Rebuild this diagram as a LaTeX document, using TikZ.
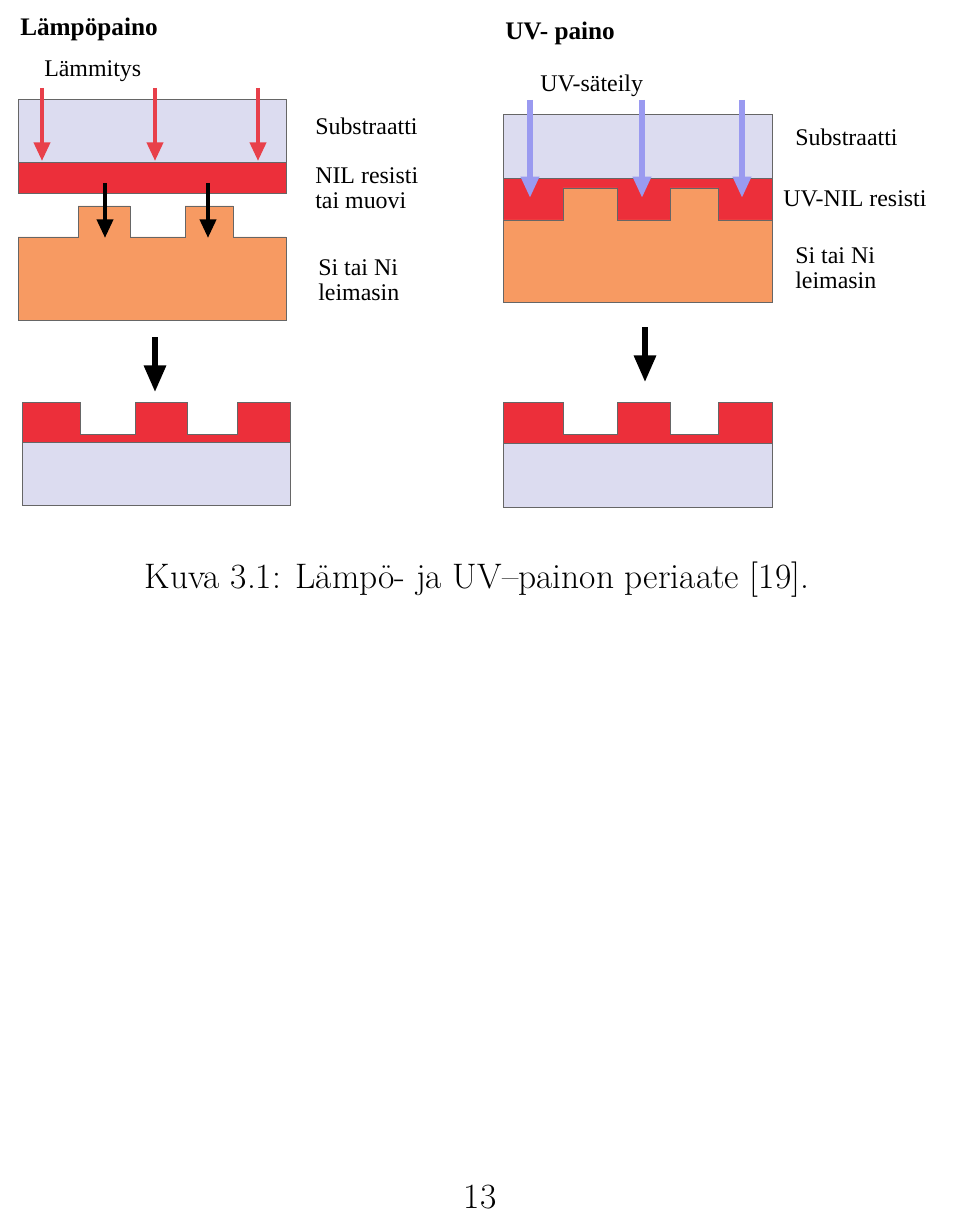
\documentclass[tikz,border=0pt]{standalone}
\usepackage{fontspec}
\newfontfamily\lblfont{Liberation Serif}
\usetikzlibrary{arrows.meta}
\definecolor{substr}{HTML}{DCDCF0}
\definecolor{resist}{HTML}{EC2F3A}
\definecolor{stamp}{HTML}{F79A62}
\definecolor{uvblue}{HTML}{9A9AF0}
\definecolor{heatred}{HTML}{E8404A}
\tikzset{
  layer/.style={draw=black!60,line width=0.6pt},
  lbl/.style={font=\lblfont\fontsize{18}{19}\selectfont,anchor=west,align=left,inner sep=0pt},
  title/.style={font=\lblfont\bfseries\fontsize{19}{21}\selectfont,anchor=west,inner sep=0pt},
  heat/.style={draw=heatred,line width=3pt,-{Triangle[width=12pt,length=14pt]}},
  uv/.style={draw=uvblue,line width=4pt,-{Triangle[width=13pt,length=16pt]}},
  press/.style={draw=black,line width=3pt,-{Triangle[width=12pt,length=14pt]}},
  step arrow/.style={draw=black,line width=4pt,-{Triangle[width=16pt,length=20pt]}}
}
\begin{document}
\begin{tikzpicture}[x=0.02646cm,y=-0.02646cm]
\useasboundingbox (0,0) rectangle (960,1213);

% thermal imprint
\node[title] (lt) at (20,29) {Lämpöpaino};
\node[lbl] (lh) at (44,71) {Lämmitys};
\fill[substr,layer] (18,99) rectangle (286,162);
\fill[resist,layer] (18,162) rectangle (286,193);
\fill[stamp,layer] (18,320) -- (18,237) -- (78,237) -- (78,206) -- (130,206) -- (130,237)
  -- (185,237) -- (185,206) -- (233,206) -- (233,237) -- (286,237) -- (286,320) -- cycle;
\foreach \x in {42,155,258} \draw[heat] (\x,88) -- (\x,161);
\foreach \x in {105,208} \draw[press] (\x,183) -- (\x,238);
\node[lbl] (ls) at (315,126) {Substraatti};
\node[lbl] (lr) at (315,188) {NIL resisti\\tai muovi};
\node[lbl] (lm) at (318,280) {Si tai Ni\\leimasin};
\draw[step arrow] (155,337) -- (155,392);
\fill[resist,layer] (22,442) -- (22,402) -- (80,402) -- (80,434) -- (135,434) -- (135,402)
  -- (187,402) -- (187,434) -- (237,434) -- (237,402) -- (290,402) -- (290,442) -- cycle;
\fill[substr,layer] (22,442) rectangle (290,505);

% UV imprint
\node[title] (ut) at (505,33) {UV- paino};
\node[lbl] (uh) at (540,86) {UV-säteily};
\fill[substr,layer] (503,114) rectangle (772,178);
\fill[resist,layer] (503,178) rectangle (772,220);
\fill[stamp,layer] (503,302) -- (503,220) -- (563,220) -- (563,188) -- (617,188) -- (617,220)
  -- (670,220) -- (670,188) -- (718,188) -- (718,220) -- (772,220) -- (772,302) -- cycle;
\foreach \x in {530,642,742} \draw[uv] (\x,100) -- (\x,198);
\node[lbl] (us) at (795,137) {Substraatti};
\node[lbl] (ur) at (783,199) {UV-NIL resisti};
\node[lbl] (um) at (795,268) {Si tai Ni\\leimasin};
\draw[step arrow] (645,327) -- (645,382);
\fill[resist,layer] (503,443) -- (503,402) -- (563,402) -- (563,434) -- (617,434) -- (617,402)
  -- (670,402) -- (670,434) -- (718,434) -- (718,402) -- (772,402) -- (772,443) -- cycle;
\fill[substr,layer] (503,443) rectangle (772,507);

% caption and page number
\node[font=\fontsize{26.7}{30}\selectfont,inner sep=0pt] (cap) at (477,580) {Kuva 3.1: Lämpö- ja UV--painon periaate [19].};
\node[font=\fontsize{26.7}{30}\selectfont,inner sep=0pt] (pg) at (480,1197) {13};
\end{tikzpicture}
\end{document}
